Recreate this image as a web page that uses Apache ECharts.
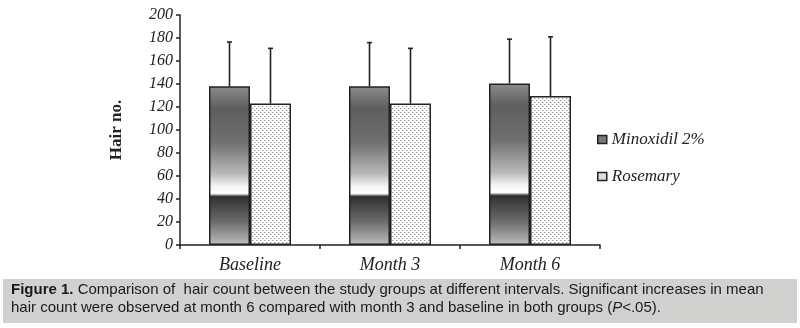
<!DOCTYPE html>
<html><head><meta charset="utf-8">
<script src="https://cdn.jsdelivr.net/npm/echarts@6/dist/echarts.min.js"></script>
<style>html,body{margin:0;padding:0;background:#fff}#c{width:800px;height:328px}</style>
</head><body><div id="c"></div>
<script>
const categories = ['Baseline', 'Month 3', 'Month 6'];
const minoxidil = [138, 138, 140.5];
const minoxidilSD = [38.5, 38, 38.5];
const rosemary = [123, 123, 129.5];
const rosemarySD = [48, 48, 51.5];
const yTicks = [0, 20, 40, 60, 80, 100, 120, 140, 160, 180, 200];
const seriesNames = ['Minoxidil 2%', 'Rosemary'];
const captionBold = 'Figure 1.';
const captionLine1 = ' Comparison of  hair count between the study groups at different intervals. Significant increases in mean';
const captionLine2 = 'hair count were observed at month 6 compared with month 3 and baseline in both groups (';
const captionTail = '<.05).';

const pc = document.createElement('canvas');
pc.width = 4; pc.height = 4;
const ctx = pc.getContext('2d');
ctx.fillStyle = '#ffffff'; ctx.fillRect(0, 0, 4, 4);
ctx.fillStyle = '#9a9a9a';
ctx.fillRect(0, 0, 1, 1); ctx.fillRect(2, 2, 1, 1);
ctx.fillStyle = '#d4d4d4';
ctx.fillRect(1, 0, 1, 1); ctx.fillRect(3, 2, 1, 1);

const minoxFill = new echarts.graphic.LinearGradient(0, 0, 0, 1, [
  {offset: 0, color: '#8c8c8c'},
  {offset: 0.14, color: '#5e5e5e'},
  {offset: 0.35, color: '#6f6f6f'},
  {offset: 0.55, color: '#b8b8b8'},
  {offset: 0.63, color: '#f4f4f4'},
  {offset: 0.675, color: '#ffffff'},
  {offset: 0.695, color: '#303030'},
  {offset: 0.85, color: '#6a6a6a'},
  {offset: 1, color: '#bdbdbd'}
]);

const BW = 41;
function errSeries(vals, sds, off) {
  return {
    type: 'custom', silent: true, z: 1,
    data: vals.map((v, i) => [i, v, sds[i]]),
    renderItem: function (params, api) {
      const base = api.coord([api.value(0), api.value(1)]);
      const top = api.coord([api.value(0), api.value(1) + api.value(2)]);
      const x = base[0] + off;
      return {type: 'group', children: [
        {type: 'line', shape: {x1: x, y1: base[1], x2: x, y2: top[1]}, style: {stroke: '#222', lineWidth: 1.6}},
        {type: 'line', shape: {x1: x - 2.5, y1: top[1], x2: x + 2.5, y2: top[1]}, style: {stroke: '#222', lineWidth: 1.6}}
      ]};
    }
  };
}

const serif = 'Liberation Serif';
const capFont = 'Liberation Sans Narrow, Liberation Sans';
const chart = echarts.init(document.getElementById('c'));
chart.setOption({
  animation: false,
  grid: {left: 180, right: 200, top: 15, bottom: 83},
  legend: {
    orient: 'vertical', left: 592, top: 126, itemGap: 20, itemWidth: 9, itemHeight: 8,
    icon: 'rect',
    textStyle: {fontFamily: serif, fontStyle: 'italic', fontSize: 17, color: '#222'},
    data: [
      {name: seriesNames[0], itemStyle: {color: '#777', borderColor: '#222', borderWidth: 1.5}},
      {name: seriesNames[1], itemStyle: {color: '#ddd', borderColor: '#222', borderWidth: 1.5}}
    ]
  },
  xAxis: {
    type: 'category', data: categories,
    axisLine: {lineStyle: {color: '#222', width: 1.5}},
    axisTick: {show: true, length: 4, inside: false, lineStyle: {color: '#222', width: 1.5}},
    axisLabel: {fontFamily: serif, fontStyle: 'italic', fontSize: 18, color: '#222', margin: 11}
  },
  yAxis: {
    type: 'value', min: yTicks[0], max: yTicks[yTicks.length - 1], interval: 20,
    name: 'Hair no.', nameLocation: 'middle', nameGap: 55, nameRotate: 90,
    nameTextStyle: {fontFamily: serif, fontWeight: 'bold', fontSize: 17, color: '#222'},
    splitLine: {show: false},
    axisLine: {show: true, lineStyle: {color: '#222', width: 1.5}},
    axisTick: {show: true, length: 4, lineStyle: {color: '#222', width: 1.5}},
    axisLabel: {fontFamily: serif, fontStyle: 'italic', fontSize: 16, color: '#222', margin: 7}
  },
  series: [
    {name: seriesNames[0], type: 'bar', data: minoxidil, barWidth: BW, barGap: '0%', z: 2,
     itemStyle: {color: minoxFill, borderColor: '#222', borderWidth: 1.5}},
    {name: seriesNames[1], type: 'bar', data: rosemary, barWidth: BW, barGap: '0%', z: 2,
     itemStyle: {color: {image: pc, repeat: 'repeat'}, borderColor: '#222', borderWidth: 1.5}},
    errSeries(minoxidil, minoxidilSD, -BW / 2),
    errSeries(rosemary, rosemarySD, BW / 2)
  ],
  graphic: [
    {type: 'rect', left: 3, top: 279, shape: {width: 794, height: 44}, style: {fill: '#d1d2d0'}, z: -1},
    {type: 'text', left: 11, top: 282, style: {
      rich: {b: {fontFamily: capFont, fontWeight: 'bold', fontSize: 15, fill: '#1a1a1a'},
             n: {fontFamily: capFont, fontSize: 15, fill: '#1a1a1a'}},
      text: '{b|' + captionBold + '}{n|' + captionLine1 + '}'
    }},
    {type: 'text', left: 11, top: 300, style: {
      rich: {n: {fontFamily: capFont, fontSize: 15, fill: '#1a1a1a'},
             i: {fontFamily: capFont, fontStyle: 'italic', fontSize: 15, fill: '#1a1a1a'}},
      text: '{n|' + captionLine2 + '}{i|P}{n|' + captionTail + '}'
    }}
  ]
});
</script></body></html>
